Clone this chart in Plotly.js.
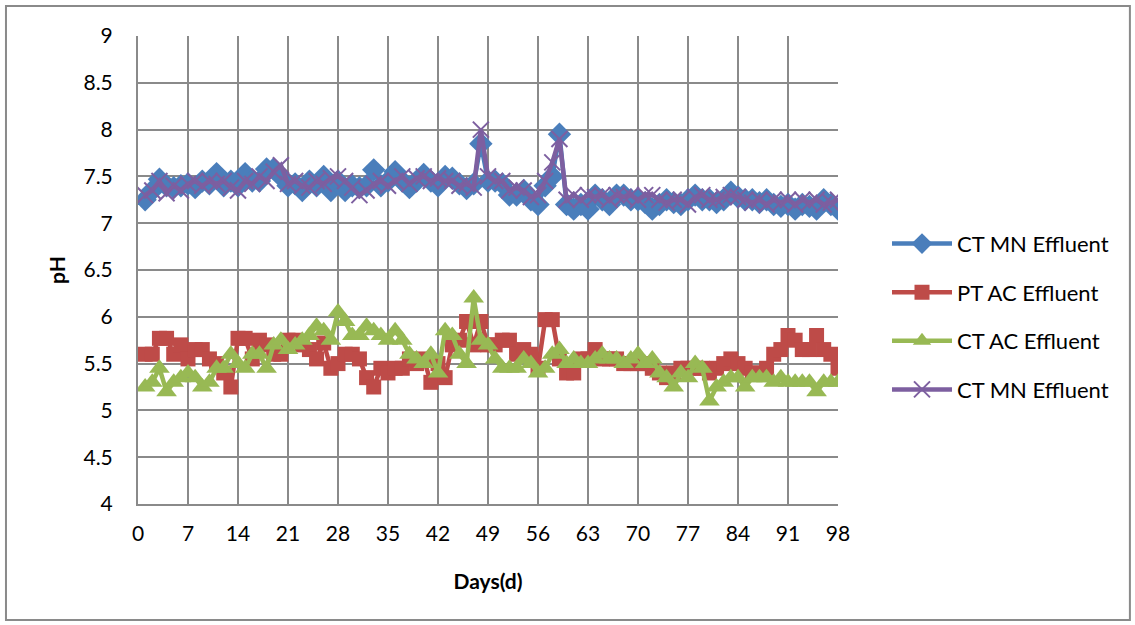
<!DOCTYPE html>
<html>
<head>
<meta charset="utf-8">
<script src="https://cdn.plot.ly/plotly-3.0.1.min.js"></script>
<style>html,body{margin:0;padding:0;background:#fff;}#chart{width:1135px;height:625px;}</style>
</head>
<body>
<div id="chart"></div>
<script>
var days = [];
for (var d = 1; d <= 98; d++) days.push(d);

var seriesNames = ["CT MN Effluent", "PT AC Effluent", "CT AC Effluent", "CT MN Effluent"];

var ctMn1 = [7.25,7.35,7.47,7.4,7.38,7.4,7.42,7.38,7.45,7.42,7.53,7.4,7.45,7.4,7.53,7.45,7.45,7.58,7.58,7.5,
7.4,7.42,7.35,7.45,7.4,7.5,7.35,7.45,7.35,7.4,7.38,7.4,7.57,7.4,7.45,7.55,7.45,7.38,7.45,7.52,
7.45,7.4,7.5,7.48,7.42,7.37,7.42,7.85,7.45,7.45,7.42,7.3,7.3,7.35,7.25,7.2,7.4,7.5,7.95,7.2,
7.15,7.2,7.15,7.3,7.25,7.2,7.3,7.3,7.25,7.25,7.22,7.15,7.2,7.25,7.22,7.2,7.25,7.3,7.25,7.25,
7.22,7.25,7.33,7.28,7.25,7.25,7.22,7.25,7.2,7.18,7.2,7.15,7.2,7.18,7.15,7.25,7.2,7.15];

var ptAc = [5.6,5.6,5.77,5.77,5.6,5.7,5.55,5.65,5.65,5.55,5.5,5.4,5.25,5.77,5.77,5.55,5.75,5.7,5.6,5.6,
5.75,5.75,5.7,5.65,5.55,5.72,5.45,5.5,5.6,5.6,5.55,5.35,5.25,5.45,5.4,5.45,5.45,5.55,5.5,5.55,
5.3,5.5,5.35,5.7,5.75,5.95,5.7,5.95,5.7,5.7,5.75,5.75,5.6,5.65,5.6,5.45,5.97,5.97,5.55,5.4,
5.4,5.55,5.55,5.65,5.55,5.55,5.55,5.5,5.5,5.5,5.5,5.45,5.4,5.35,5.4,5.45,5.45,5.45,5.45,5.4,
5.45,5.5,5.55,5.5,5.45,5.4,5.4,5.45,5.6,5.65,5.8,5.75,5.65,5.65,5.8,5.65,5.6,5.45];

var ctAc = [5.25,5.3,5.45,5.2,5.3,5.35,5.4,5.35,5.25,5.3,5.45,5.45,5.6,5.5,5.45,5.6,5.6,5.45,5.7,5.75,
5.65,5.7,5.75,5.8,5.9,5.85,5.75,6.05,5.95,5.8,5.8,5.9,5.85,5.8,5.75,5.85,5.75,5.6,5.55,5.5,
5.6,5.4,5.85,5.8,5.6,5.5,6.2,5.75,5.7,5.55,5.45,5.45,5.45,5.55,5.5,5.4,5.45,5.6,5.65,5.5,
5.55,5.5,5.5,5.55,5.6,5.55,5.55,5.5,5.55,5.6,5.5,5.55,5.4,5.35,5.25,5.4,5.35,5.5,5.45,5.1,
5.25,5.3,5.35,5.35,5.25,5.35,5.35,5.35,5.3,5.35,5.3,5.3,5.3,5.3,5.2,5.3,5.3,5.3];

var ctMn2 = [7.3,7.35,7.45,7.32,7.4,7.35,7.42,7.45,7.4,7.45,7.42,7.45,7.38,7.35,7.45,7.42,7.5,7.45,7.55,7.62,
7.42,7.45,7.4,7.38,7.45,7.42,7.48,7.5,7.45,7.38,7.3,7.35,7.42,7.45,7.4,7.45,7.5,7.42,7.48,7.5,
7.45,7.48,7.45,7.45,7.4,7.42,7.38,8.0,7.5,7.45,7.45,7.35,7.38,7.35,7.28,7.3,7.45,7.65,7.9,7.25,
7.3,7.25,7.3,7.28,7.3,7.25,7.3,7.28,7.3,7.25,7.3,7.3,7.25,7.22,7.25,7.25,7.2,7.28,7.3,7.25,
7.25,7.28,7.3,7.28,7.25,7.22,7.25,7.2,7.25,7.22,7.25,7.2,7.25,7.22,7.25,7.2,7.22,7.25];

var xTicks = [0,7,14,21,28,35,42,49,56,63,70,77,84,91,98];
var yTicks = [4,4.5,5,5.5,6,6.5,7,7.5,8,8.5,9];

var colors = ["#4a7ebb", "#be4b48", "#98b954", "#7d5fa0"];
var FONT = "Lato, 'Noto Sans', sans-serif";

var traces = [
  {x: days, y: ctMn1, name: seriesNames[0], legendgroup: "g1", mode: "lines+markers",
   line: {color: colors[0], width: 4.5}, marker: {symbol: "diamond", size: 18, color: colors[0]}},
  {x: days, y: ptAc, name: seriesNames[1], legendgroup: "g2", mode: "lines+markers",
   line: {color: colors[1], width: 4.5}, marker: {symbol: "square", size: 15, color: colors[1]}},
  {x: days, y: ctAc, name: seriesNames[2], legendgroup: "g3", mode: "lines+markers",
   line: {color: colors[2], width: 4.5}, marker: {symbol: "triangle-up", size: 18, color: colors[2]}},
  {x: days, y: ctMn2, name: seriesNames[3], legendgroup: "g4", mode: "lines+markers",
   line: {color: colors[3], width: 4.5}, marker: {symbol: "x-thin-open", size: 16, color: colors[3], line: {color: colors[3], width: 2}}}
];

var layout = {
  width: 1135, height: 625,
  margin: {l: 138, r: 297, t: 36, b: 121},
  paper_bgcolor: "#ffffff", plot_bgcolor: "#ffffff",
  font: {family: FONT, size: 21, color: "#000"},
  showlegend: true,
  legend: {x: 1.07, y: 0.40, xanchor: "left", yanchor: "middle", tracegroupgap: 17,
           font: {family: FONT, size: 22, color: "#000"}, itemwidth: 60, bgcolor: "rgba(0,0,0,0)"},
  xaxis: {range: [0, 98], tickmode: "array", tickvals: xTicks, ticktext: xTicks.map(String),
          showgrid: true, gridcolor: "#8a8a8a", gridwidth: 2, zeroline: false,
          showline: true, linecolor: "#8a8a8a", linewidth: 2, ticks: "", ticklen: 0,
          ticklabelstandoff: 10,
          tickfont: {family: FONT, size: 21}, fixedrange: true,
          title: {text: "<b>Days(d)</b>", font: {family: FONT, size: 21}, standoff: 30}},
  yaxis: {range: [4, 9], tickmode: "array", tickvals: yTicks, ticktext: yTicks.map(String),
          showgrid: true, gridcolor: "#8a8a8a", gridwidth: 2, zeroline: false,
          showline: true, linecolor: "#8a8a8a", linewidth: 2, ticks: "", ticklen: 0,
          ticklabelstandoff: 19,
          tickfont: {family: FONT, size: 21}, fixedrange: true,
          title: {text: "<b>pH</b>", font: {family: FONT, size: 21}, standoff: 12}},
  shapes: [
    {type: "rect", xref: "paper", yref: "paper", x0: -0.1886, x1: 1.417, y0: -0.248, y1: 1.064,
     line: {color: "#8a8a8a", width: 2}, fillcolor: "rgba(0,0,0,0)", layer: "below"}
  ]
};

Plotly.newPlot("chart", traces, layout, {displayModeBar: false, staticPlot: true});
</script>
</body>
</html>
